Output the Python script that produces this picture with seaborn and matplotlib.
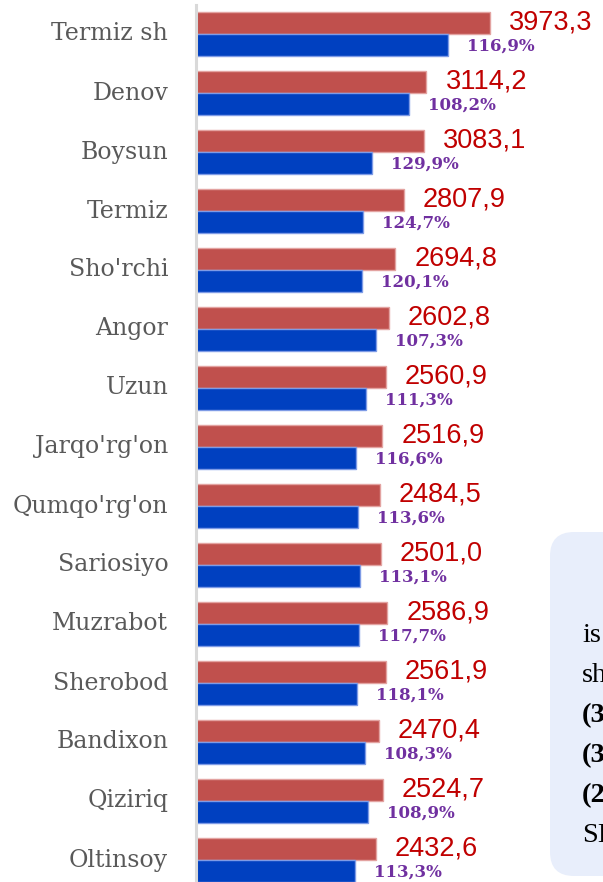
import matplotlib
matplotlib.use("Agg")
import matplotlib.pyplot as plt
import seaborn as sns
import pandas as pd
from matplotlib.patches import FancyBboxPatch
from matplotlib.transforms import IdentityTransform

districts = ["Termiz sh", "Denov", "Boysun", "Termiz", "Sho'rchi", "Angor", "Uzun",
             "Jarqo'rg'on", "Qumqo'rg'on", "Sariosiyo", "Muzrabot", "Sherobod",
             "Bandixon", "Qiziriq", "Oltinsoy"]
current = [3973.3, 3114.2, 3083.1, 2807.9, 2694.8, 2602.8, 2560.9, 2516.9,
           2484.5, 2501.0, 2586.9, 2561.9, 2470.4, 2524.7, 2432.6]
previous = [3398.9, 2878.2, 2373.4, 2251.7, 2243.8, 2425.7, 2300.9, 2158.6,
            2187.1, 2211.3, 2197.9, 2169.3, 2281.1, 2318.4, 2147.0]
growth = ["116,9%", "108,2%", "129,9%", "124,7%", "120,1%", "107,3%", "111,3%",
          "116,6%", "113,6%", "113,1%", "117,7%", "118,1%", "108,3%", "108,9%", "113,3%"]
box_lines = ["is", "sh", "(3", "(3", "(2", "SI"]
box_bold = [False, False, True, True, True, False]

sns.set_theme(style="white")

df = pd.DataFrame({
    "district": districts * 2,
    "series": ["cur"] * len(districts) + ["prev"] * len(districts),
    "value": current + previous,
})

W, H = 603, 882
fig = plt.figure(figsize=(W / 100, H / 100), dpi=100)

# partially visible text box at the bottom right (drawn behind the axes)
box = FancyBboxPatch((550, H - 876), 140, 876 - 532,
                     boxstyle="round,pad=0,rounding_size=24",
                     transform=IdentityTransform(), facecolor="#E8EEFB",
                     edgecolor="none", zorder=0)
fig.add_artist(box)

ax = fig.add_axes([196 / W, -7.5 / H, 407 / W, 885 / H])
ax.patch.set_visible(False)
ax.set_zorder(1)

sns.barplot(data=df, y="district", x="value", hue="series", order=districts,
            hue_order=["cur", "prev"], palette={"cur": "#C0504D", "prev": "#0040C0"},
            orient="h", width=0.75, dodge=True, legend=False, ax=ax, saturation=1)

n = len(districts)
for i, p in enumerate(ax.patches):
    if i < n:
        p.set_edgecolor("#E3A3A1")
    else:
        p.set_edgecolor("#7E9BE6")
    p.set_linewidth(1.0)

ax.set_xlim(0, 5500)
ax.set_ylim(n - 0.5, -0.5)
ax.set_xlabel("")
ax.set_ylabel("")
ax.set_xticks([])
for s in ["top", "right", "bottom"]:
    ax.spines[s].set_visible(False)
ax.spines["left"].set_color("#D9D9D9")
ax.spines["left"].set_linewidth(2.2)
ax.tick_params(axis="y", length=0, pad=20)
for lab in ax.get_yticklabels():
    lab.set_fontfamily("DejaVu Serif")
    lab.set_fontsize(17)
    lab.set_color("#595959")
    lab.set_va("center")

off = 0.75 / 4
for i in range(n):
    ax.annotate(f"{current[i]:.1f}".replace(".", ","), xy=(current[i], i - off),
                xytext=(19, 0), textcoords="offset pixels", ha="left", va="center",
                fontsize=19.5, color="#C00000", family="Liberation Sans",
                annotation_clip=False)
    ax.annotate(growth[i], xy=(previous[i], i + off + 0.02),
                xytext=(19, 0), textcoords="offset pixels", ha="left", va="center",
                fontsize=12, color="#7030A0", family="DejaVu Serif", fontweight="bold",
                annotation_clip=False)

baselines = [642, 682, 722, 762, 802, 842]
for t, b, yb in zip(box_lines, box_bold, baselines):
    fig.text(582 / W, 1 - yb / H, t, ha="left", va="baseline", fontsize=20.5,
             family="Liberation Serif", fontweight="bold" if b else "normal",
             color="black", zorder=2)

fig.savefig("out.png", dpi=100)
